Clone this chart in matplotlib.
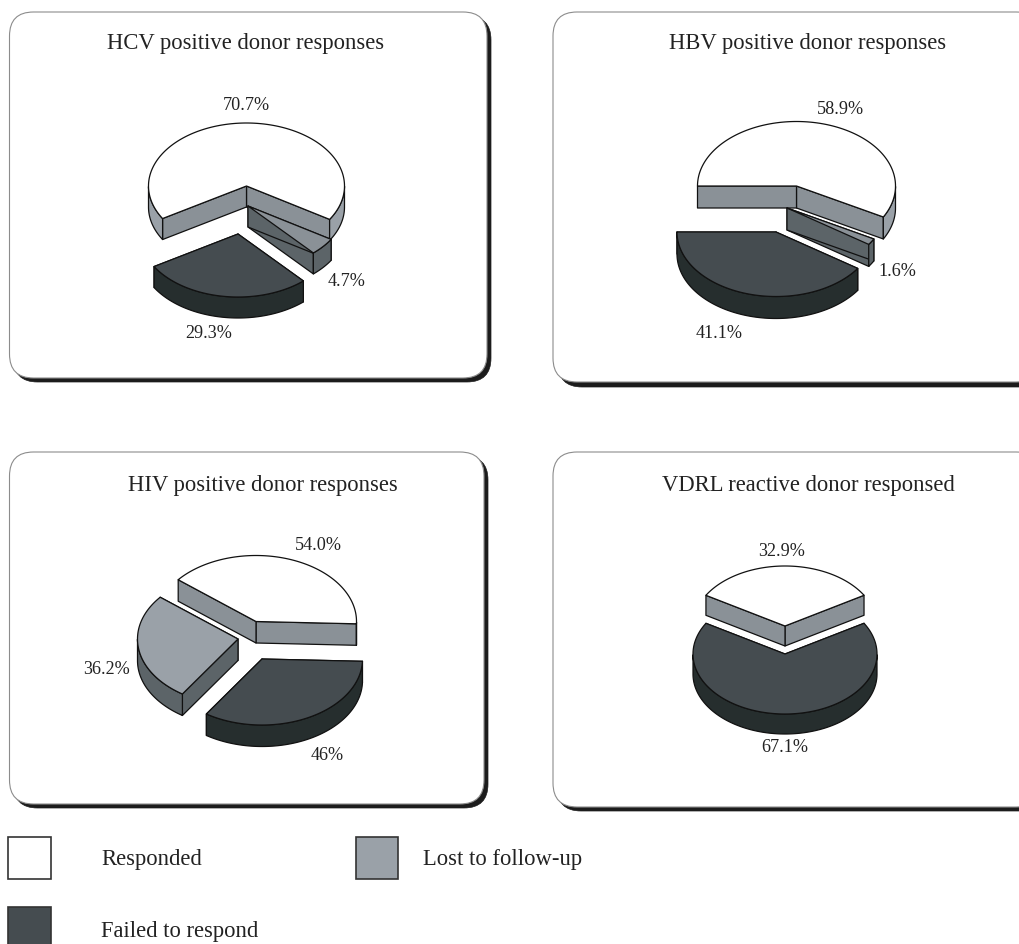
import numpy as np
import matplotlib
matplotlib.use('Agg')
import matplotlib.pyplot as plt
from matplotlib.patches import FancyBboxPatch, Polygon, Rectangle

plt.rcParams['font.family'] = ['Liberation Serif', 'DejaVu Serif']

# Values as printed on the chart (they are normalised when the slices are drawn)
responded = 'Responded'
lost = 'Lost to follow-up'
failed = 'Failed to respond'

hcv_categories = [responded, failed, lost]
hcv_values = [70.7, 29.3, 4.7]
hcv_labels = ['70.7%', '29.3%', '4.7%']

hbv_categories = [responded, failed, lost]
hbv_values = [58.9, 41.1, 1.6]
hbv_labels = ['58.9%', '41.1%', '1.6%']

hiv_categories = [responded, lost, failed]
hiv_values = [54.0, 36.2, 46.0]
hiv_labels = ['54.0%', '36.2%', '46%']

vdrl_categories = [responded, failed]
vdrl_values = [32.9, 67.1]
vdrl_labels = ['32.9%', '67.1%']

# Colours: top, cut faces, outer wall
colors = {
    responded: ('#ffffff', '#8a9197', '#9aa1a8'),
    lost: ('#9aa1a8', '#5c6468', '#5c6468'),
    failed: ('#454c50', '#262e2e', '#262e2e'),
}
small_lost_top = '#8a9197'

# Layout in image pixels
panels = [
    dict(title='HCV positive donor responses', title_xy=(246, 43), box=(9.5, 12, 487, 378), shadow=4,
         categories=hcv_categories, values=hcv_values, labels=hcv_labels,
         label_xy=[(246, 106), (209, 333), (347, 282)],
         center=(246.5, 186), rx=98, ry=63, depth=21, start=-32, lost_top=small_lost_top,
         offsets={responded: (0, 0), failed: (-8.5, 48), lost: (1.5, 20)}),
    dict(title='HBV positive donor responses', title_xy=(808, 43), box=(553, 12, 1040, 382), shadow=5,
         categories=hbv_categories, values=hbv_values, labels=hbv_labels,
         label_xy=[(840, 109), (719, 333), (897, 271)],
         center=(796.5, 186), rx=99, ry=64.5, depth=22, start=-28.7, lost_top=small_lost_top,
         offsets={responded: (0, 0), failed: (-20.5, 46), lost: (-9.5, 22)}),
    dict(title='HIV positive donor responses', title_xy=(263, 485), box=(9.5, 452, 484, 804), shadow=4,
         categories=hiv_categories, values=hiv_values, labels=hiv_labels,
         label_xy=[(318, 545), (107, 670), (327, 756)],
         center=(256, 621.5), rx=100.5, ry=66, depth=21.5, start=-2,
         offsets={responded: (0, 0), lost: (-18, 17.5), failed: (6, 37.5)}),
    dict(title='VDRL reactive donor responsed', title_xy=(808, 485), box=(553, 452, 1040, 807), shadow=4,
         categories=vdrl_categories, values=vdrl_values, labels=vdrl_labels,
         label_xy=[(782, 552), (785, 748)],
         center=(785, 626), rx=92, ry=60, depth=20, start=30.8,
         offsets={responded: (0, 0), failed: (0, 28)}),
]

fig = plt.figure(figsize=(10.19, 9.44), dpi=100, facecolor='white')
ax = fig.add_axes([0, 0, 1, 1])
ax.set_xlim(0, 1019)
ax.set_ylim(944, 0)
ax.axis('off')


def draw_box(box, shadow):
    x0, y0, x1, y1 = box
    style = 'round,pad=0,rounding_size=24'
    ax.add_patch(FancyBboxPatch((x0 + shadow, y0 + shadow), x1 - x0, y1 - y0, boxstyle=style,
                                fc='#1c1c1c', ec='#1c1c1c', lw=0.5, zorder=1))
    ax.add_patch(FancyBboxPatch((x0, y0), x1 - x0, y1 - y0, boxstyle=style,
                                fc='white', ec='#8c8c8c', lw=0.8, zorder=2))


def draw_slice(center, rx, ry, depth, theta1, theta2, cols, zorder):
    cx, cy = center
    t = np.radians(np.linspace(theta1, theta2, 200))
    xs = cx + rx * np.cos(t)
    ys = cy - ry * np.sin(t)
    top_col, cut_col, wall_col = cols
    edge = dict(ec='#111111', lw=0.9, joinstyle='round', zorder=zorder)

    # cut faces first, the top hides whichever of them face away
    for i in (0, -1):
        quad = [(cx, cy), (xs[i], ys[i]), (xs[i], ys[i] + depth), (cx, cy + depth)]
        ax.add_patch(Polygon(quad, closed=True, fc=cut_col, **edge))

    # outer wall, only where the rim faces the viewer
    front = np.sin(t) <= 0
    runs = np.split(np.arange(len(t)), np.where(np.diff(front.astype(int)) != 0)[0] + 1)
    for run in runs:
        if len(run) > 1 and front[run[0]]:
            pts = list(zip(xs[run], ys[run])) + list(zip(xs[run][::-1], ys[run][::-1] + depth))
            ax.add_patch(Polygon(pts, closed=True, fc=wall_col, **edge))

    top = [(cx, cy)] + list(zip(xs, ys))
    ax.add_patch(Polygon(top, closed=True, fc=top_col, **edge))


for p in panels:
    draw_box(p['box'], p['shadow'])
    ax.text(p['title_xy'][0], p['title_xy'][1], p['title'], fontsize=16.3, color='#222222',
            ha='center', va='center', zorder=10)

    # sweep of each slice comes from its share of the printed values
    sweeps = np.array(p['values']) / np.sum(p['values']) * 360
    ends = p['start'] + np.cumsum(sweeps)
    starts = ends - sweeps
    spans = {c: (a, b) for c, a, b in zip(p['categories'], starts, ends)}

    # back to front
    for z, cat in enumerate([responded, lost, failed]):
        if cat not in spans:
            continue
        dx, dy = p['offsets'][cat]
        center = (p['center'][0] + dx, p['center'][1] + dy)
        cols = colors[cat]
        if cat == lost and 'lost_top' in p:
            cols = (p['lost_top'], cols[1], cols[2])
        draw_slice(center, p['rx'], p['ry'], p['depth'], spans[cat][0], spans[cat][1], cols, 3 + z)

    for lab, (x, y) in zip(p['labels'], p['label_xy']):
        ax.text(x, y, lab, fontsize=13.1, color='#222222', ha='center', va='center', zorder=10)

# Legend
legend_items = [
    (responded, (8.5, 837), (101, 859), colors[responded][0]),
    (lost, (356, 837), (423, 859), colors[lost][0]),
    (failed, (8.5, 907), (101, 931), colors[failed][0]),
]
for name, (x, y), (tx, ty), col in legend_items:
    ax.add_patch(Rectangle((x, y), 42.5, 42, fc=col, ec='#333333', lw=1.2, zorder=3))
    ax.text(tx, ty, name, fontsize=16.3, color='#222222', ha='left', va='center', zorder=10)

fig.savefig('out.png', dpi=100)
